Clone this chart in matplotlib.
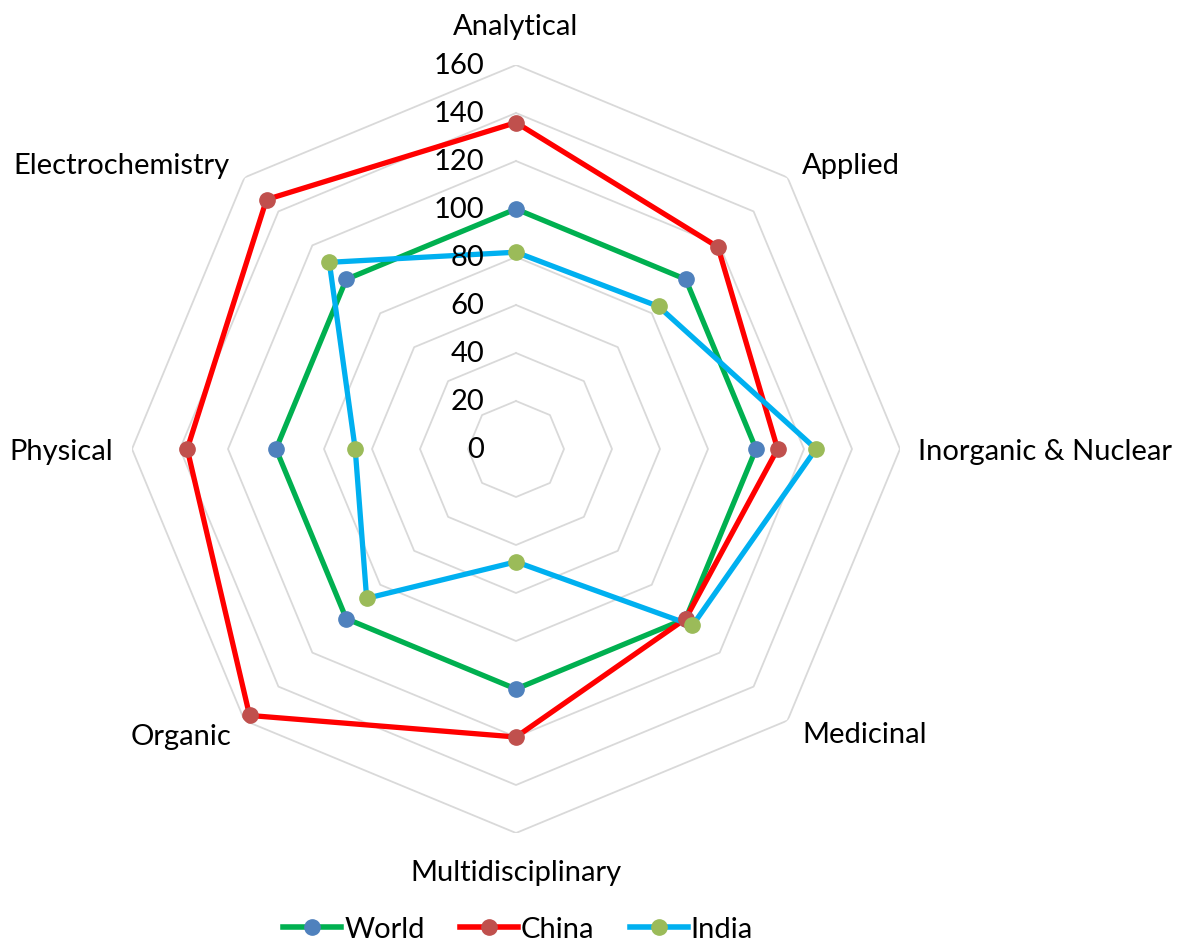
import numpy as np
import matplotlib
matplotlib.use("Agg")
import matplotlib.pyplot as plt
from matplotlib.lines import Line2D

categories = ["Analytical", "Applied", "Inorganic & Nuclear", "Medicinal",
              "Multidisciplinary", "Organic", "Physical", "Electrochemistry"]
world = [100, 100, 100, 100, 100, 100, 100, 100]
china = [136, 119, 109, 100, 120, 157, 137, 147]
india = [82, 84, 125, 104, 47, 88, 67, 110]
r_ticks = [0, 20, 40, 60, 80, 100, 120, 140, 160]

series = [
    ("World", world, "#00B050", "#4F81BD"),
    ("China", china, "#FF0000", "#C0504D"),
    ("India", india, "#00B0F0", "#9BBB59"),
]

plt.rcParams['font.family'] = ['Lato', 'DejaVu Sans']
FS = 21
fig = plt.figure(figsize=(11.84, 9.45), dpi=100)
ax = fig.add_axes([132/1184, 111/945, 768/1184, 768/945], projection='polar')
ax.set_theta_offset(np.pi/2)
ax.set_theta_direction(-1)
ax.set_ylim(0, 160)
ax.grid(False)
ax.spines['polar'].set_visible(False)
ax.set_xticks([])
ax.set_yticks([])
ax.patch.set_alpha(0)

n = len(categories)
theta = np.arange(n) * 2*np.pi/n
theta_c = np.append(theta, theta[0])

for r in r_ticks[1:]:
    ax.plot(theta_c, [r]*(n+1), color="#D9D9D9", lw=1.3, zorder=1)

for name, vals, lc, mc in series:
    v = list(vals) + [vals[0]]
    ax.plot(theta_c, v, color=lc, lw=3.8, zorder=3)
    ax.plot(theta, vals, ls='none', marker='o', ms=11, mfc=mc, mec=mc, zorder=4)

# radial labels
for r in r_ticks:
    ax.annotate(str(r), xy=(0, r), xytext=(-23, 0), textcoords='offset points',
                ha='right', va='center', fontsize=FS, color='black', annotation_clip=False)

# category labels (figure pixel coordinates)
label_pos = [
    (516, 27, 'center'), (802, 166, 'left'), (918, 452, 'left'), (802, 735, 'left'),
    (516, 873, 'center'), (232, 737, 'right'), (113, 452, 'right'), (230, 166, 'right'),
]
for cat, (x, y, ha) in zip(categories, label_pos):
    fig.text(x/1184, 1 - y/945, cat, ha=ha, va='center', fontsize=FS, color='black')

handles = [Line2D([0], [0], color=lc, lw=4, marker='o', ms=11, mfc=mc, mec=mc)
           for _, _, lc, mc in series]
fig.legend(handles, [s[0] for s in series], loc='center', bbox_to_anchor=(518/1184, 1 - 930/945),
           ncol=3, frameon=False, fontsize=FS, handlelength=2.0, handletextpad=0.1,
           columnspacing=1.2)

fig.savefig("out.png", dpi=100)
